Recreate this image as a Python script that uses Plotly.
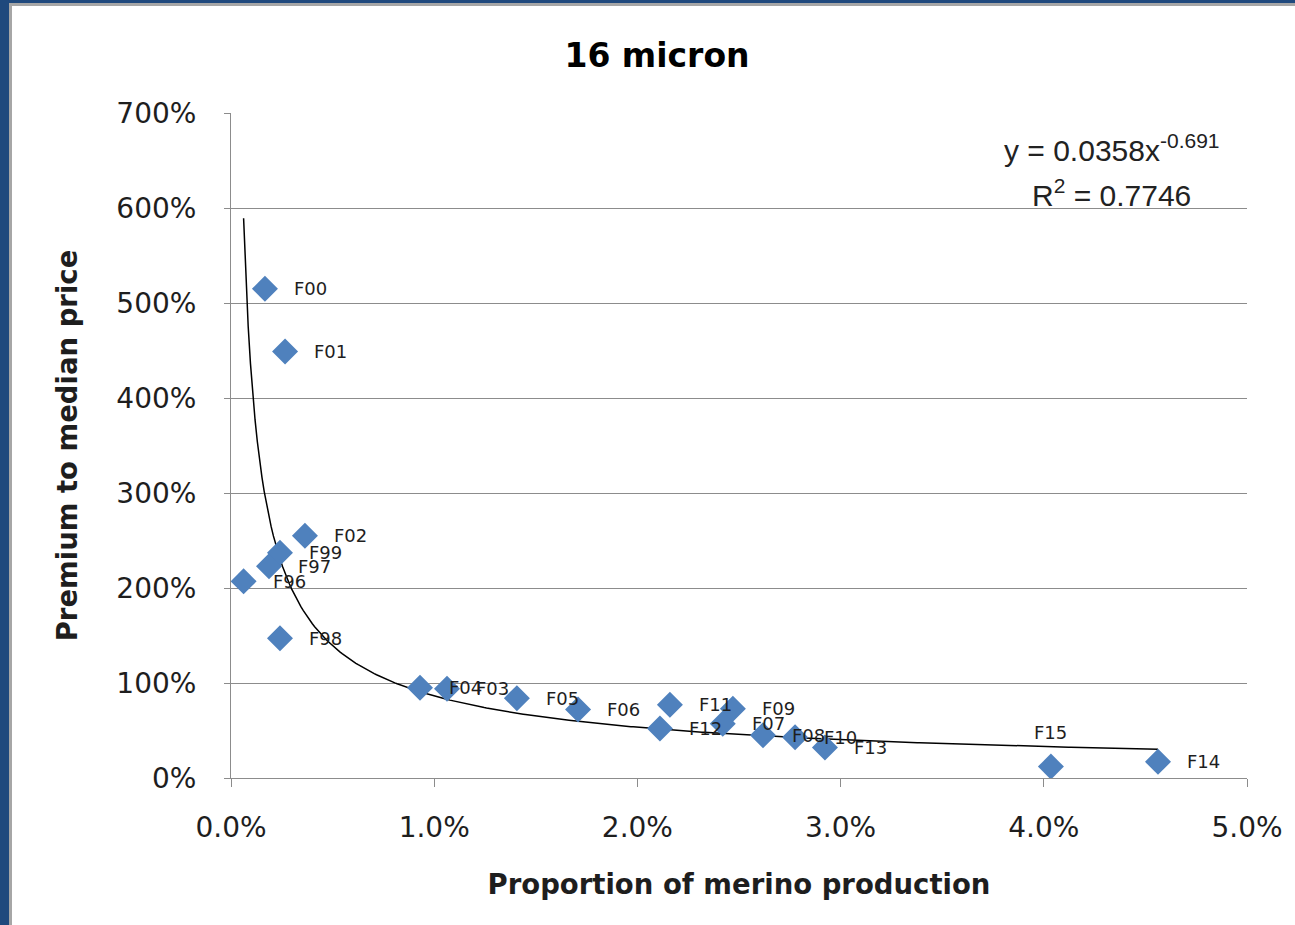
import numpy as np
import plotly.graph_objects as go

# Season labels and their share of merino production / premium to median price
seasons = ["F96", "F97", "F98", "F99", "F00", "F01", "F02", "F03", "F04", "F05",
           "F06", "F07", "F08", "F09", "F10", "F11", "F12", "F13", "F14", "F15"]
proportion = [0.00062, 0.00187, 0.00241, 0.00241, 0.00167, 0.00266, 0.00364, 0.01063,
              0.00930, 0.01407, 0.01708, 0.02420, 0.02618, 0.02470, 0.02776, 0.02160,
              0.02111, 0.02923, 0.04562, 0.04035]
premium = [2.07, 2.23, 1.47, 2.37, 5.15, 4.49, 2.55, 0.94, 0.95, 0.84,
           0.72, 0.57, 0.45, 0.73, 0.43, 0.77, 0.52, 0.32, 0.17, 0.12]

# Power trendline y = a * x^b
coef_a = 0.0358
coef_b = -0.691
r_squared = 0.7746

W, H = 1295, 925
L, R, T, B = 231, 48, 113, 147
PW, PH = W - L - R, H - T - B

FONT = "DejaVu Sans"
BLUE = "#4F81BD"
GRID = "#8C8C8C"
TEXT = "#1e1e1e"


def px_x(p):
    return (p - L) / PW


def px_y(p):
    return (H - B - p) / PH


fig = go.Figure()

xs = np.linspace(min(proportion), max(proportion), 400)
fig.add_trace(go.Scatter(
    x=xs, y=coef_a * xs ** coef_b, mode="lines",
    line=dict(color="black", width=1.5), hoverinfo="skip", showlegend=False))

fig.add_trace(go.Scatter(
    x=proportion, y=premium, mode="markers", text=seasons,
    marker=dict(symbol="diamond", size=20, color=BLUE, line=dict(width=0)),
    showlegend=False))

# Data labels: to the right of each point, F15 above its point
for name, xv, yv in zip(seasons, proportion, premium):
    if name == "F15":
        fig.add_annotation(x=xv, y=yv, text=name, showarrow=False,
                           xanchor="center", yanchor="middle", yshift=34,
                           font=dict(family=FONT, size=18, color=TEXT))
    else:
        fig.add_annotation(x=xv, y=yv, text=name, showarrow=False,
                           xanchor="left", yanchor="middle", xshift=27,
                           font=dict(family=FONT, size=18, color=TEXT))

fig.add_annotation(
    x=px_x(1112), y=px_y(148), xref="paper", yref="paper",
    text=f"y = {coef_a}x<sup>{coef_b}</sup>", showarrow=False,
    font=dict(family="Liberation Sans", size=30, color="#222"),
    xanchor="center", yanchor="middle")
fig.add_annotation(
    x=px_x(1111), y=px_y(193), xref="paper", yref="paper",
    text=f"R<sup>2</sup> = {r_squared}", showarrow=False,
    font=dict(family="Liberation Sans", size=30, color="#222"),
    xanchor="center", yanchor="middle")

# Frame around the chart area
fig.add_shape(type="rect", xref="paper", yref="paper",
              x0=px_x(0), x1=px_x(9), y0=px_y(H), y1=px_y(0),
              fillcolor="#1F497D", line_width=0, layer="above")
fig.add_shape(type="rect", xref="paper", yref="paper",
              x0=px_x(0), x1=px_x(W), y0=px_y(3), y1=px_y(0),
              fillcolor="#1F497D", line_width=0, layer="above")
fig.add_shape(type="rect", xref="paper", yref="paper",
              x0=px_x(9), x1=px_x(12), y0=px_y(H), y1=px_y(3),
              fillcolor="#A6A6A6", line_width=0, layer="above")
fig.add_shape(type="rect", xref="paper", yref="paper",
              x0=px_x(9), x1=px_x(W), y0=px_y(6), y1=px_y(3),
              fillcolor="#A6A6A6", line_width=0, layer="above")

fig.update_layout(
    width=W, height=H,
    margin=dict(l=L, r=R, t=T, b=B),
    paper_bgcolor="white", plot_bgcolor="white",
    font=dict(family=FONT, color=TEXT),
    title=dict(text="<b>16 micron</b>", x=657 / W, y=1 - 55 / H,
               xanchor="center", yanchor="middle",
               font=dict(family=FONT, size=33, color="black")),
    xaxis=dict(range=[0, 0.05], dtick=0.01, tick0=0, tickformat=".1%",
               showgrid=False, zeroline=False, showline=True, linecolor=GRID,
               linewidth=1, ticks="outside", ticklen=8, tickcolor=GRID,
               ticklabelstandoff=16,
               tickfont=dict(family=FONT, size=28, color=TEXT),
               title=dict(text="<b>Proportion of merino production</b>",
                          standoff=32,
                          font=dict(family=FONT, size=27.5, color=TEXT))),
    yaxis=dict(range=[0, 7], dtick=1, tick0=0, tickformat=".0%",
               showgrid=True, gridcolor=GRID, gridwidth=1,
               zeroline=False, showline=True, linecolor=GRID, linewidth=1,
               ticks="outside", ticklen=6, tickcolor=GRID,
               ticklabelstandoff=22,
               tickfont=dict(family=FONT, size=28, color=TEXT),
               title=dict(text="<b>Premium to median price</b>", standoff=30,
                          font=dict(family=FONT, size=27.5, color=TEXT))),
)

fig.write_html("out.html")
